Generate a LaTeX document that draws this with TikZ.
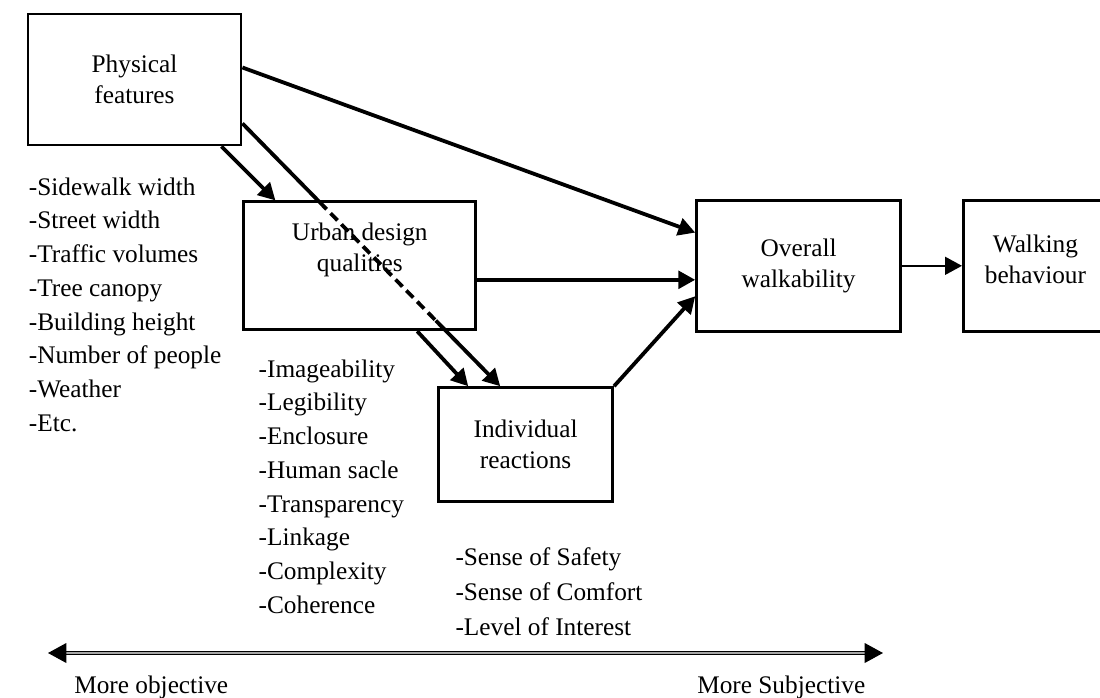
\documentclass[tikz,border=0pt]{standalone}
\usepackage{fontspec}
\setmainfont{Liberation Serif}
\usetikzlibrary{arrows.meta, positioning, calc}

\begin{document}
\begin{tikzpicture}[
    factorbox/.style={rectangle, draw=black, line width=2pt,
        align=center, inner sep=2pt,
        font=\fontsize{18}{22}\selectfont},
    itemlist/.style={align=left, inner sep=0pt, anchor=north west,
        font=\fontsize{18}{24}\selectfont},
    endlabel/.style={inner sep=0pt, anchor=west,
        font=\fontsize{18}{22}\selectfont},
    arrow/.style={-{Triangle[length=12pt, width=12.5pt]}, line width=2.7pt},
    thinarrow/.style={arrow, line width=1.8pt},
    scalearrow/.style={{Triangle[length=13pt, width=14pt]}-{Triangle[length=13pt, width=14pt]},
        draw=black, line width=0.9pt, double=gray!70, double distance=1.2pt}
]
\useasboundingbox (0,0) rectangle (27.5,-17.425);
% the five boxes
\node[factorbox, minimum width=5.325cm, minimum height=3.275cm] (phys)
    at (3.3625,-1.9875) {Physical\\features};
\node[factorbox, minimum width=5.8cm, minimum height=3.2cm,
    below right=1.35cm and 0cm of phys] (urban)
    {Urban design\\qualities\\[4pt]\mbox{}};
\node[factorbox, minimum width=4.35cm, minimum height=2.85cm,
    below right=1.375cm and -1cm of urban] (indiv)
    {Individual\\reactions};
\node[factorbox, minimum width=5.1cm, minimum height=3.275cm,
    right=5.45cm of urban] (overall) {Overall\\walkability};
\node[factorbox, minimum width=3.6cm, minimum height=3.275cm,
    right=1.5cm of overall] (walk) {Walking\\behaviour\\[-12pt]\mbox{}};
% lists under the boxes
\node[itemlist, below right=0.775cm and 0.05cm of phys.south west] (physlist)
    {-Sidewalk width\\-Street width\\-Traffic volumes\\-Tree canopy\\
     -Building height\\-Number of people\\-Weather\\-Etc.};
\node[itemlist, below right=0.7cm and 0.4cm of urban.south west] (urbanlist)
    {-Imageability\\-Legibility\\-Enclosure\\-Human sacle\\
     -Transparency\\-Linkage\\-Complexity\\-Coherence};
\node[itemlist, font=\fontsize{18}{25}\selectfont,
    below right=1.1cm and 0.45cm of indiv.south west] (indivlist)
    {-Sense of Safety\\-Sense of Comfort\\-Level of Interest};
% arrows
\draw[arrow] ([yshift=0.3cm]phys.east) -- ([yshift=0.83cm]overall.west);
\draw[arrow] ([xshift=-0.525cm]phys.south east) -- ([xshift=0.825cm]urban.north west);
\coordinate (dashfrom) at ([yshift=0.575cm]phys.south east);
\coordinate (dashto) at ([xshift=1.575cm]indiv.north west);
\draw[line width=2.7pt] (dashfrom) -- ($(dashfrom)!0.3!(dashto)$);
\draw[line width=2.7pt, dash pattern=on 7pt off 4pt]
    ($(dashfrom)!0.3!(dashto)$) -- ($(dashfrom)!0.75!(dashto)$);
\draw[arrow] ($(dashfrom)!0.75!(dashto)$) -- (dashto);
\draw[arrow] ([xshift=-1.5cm]urban.south east) -- ([xshift=0.775cm]indiv.north west);
\draw[arrow] ([yshift=-0.35cm]urban.east) -- ([yshift=-0.35cm]overall.west);
\draw[arrow] (indiv.north east) -- ([yshift=-0.76cm]overall.west);
\draw[thinarrow] (overall) -- (walk);
% objective / subjective scale
\coordinate (objend) at (1.2,-16.325);
\coordinate (subjend) at (22.075,-16.325);
\draw[scalearrow] (objend) -- (subjend);
\node[endlabel] (objlbl) at (1.85,-17.175) {More objective};
\node[endlabel] (subjlbl) at (17.425,-17.175) {More Subjective};
\end{tikzpicture}
\end{document}
